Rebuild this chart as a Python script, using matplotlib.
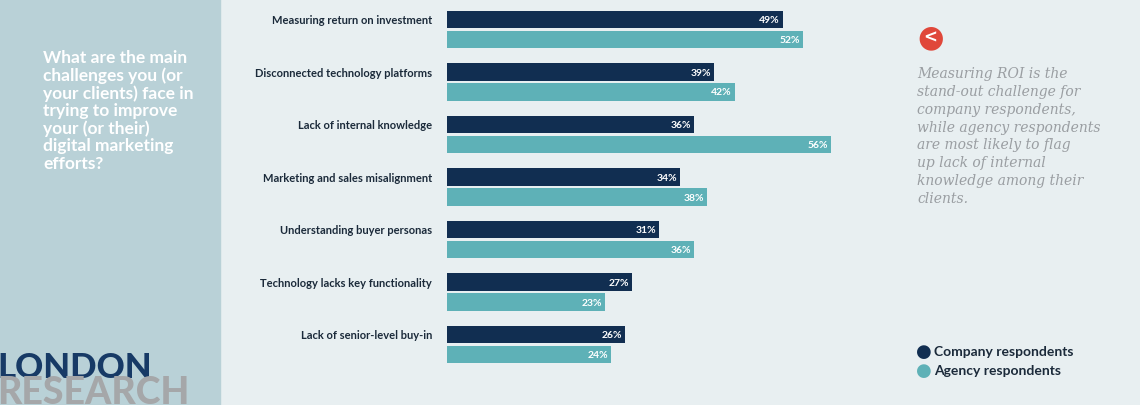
import numpy as np
import matplotlib.pyplot as plt
from matplotlib.patches import Rectangle

categories = [
    "Measuring return on investment",
    "Disconnected technology platforms",
    "Lack of internal knowledge",
    "Marketing and sales misalignment",
    "Understanding buyer personas",
    "Technology lacks key functionality",
    "Lack of senior-level buy-in",
]
company = [49, 39, 36, 34, 31, 27, 26]
agency = [52, 42, 56, 38, 36, 23, 24]

dark = "#112e51"
teal = "#5eb1b7"
bg = "#e8eff1"

fig = plt.figure(figsize=(11.4, 4.06), dpi=100)
fig.patch.set_facecolor(bg)
fig.patches.append(Rectangle((0, 0), 220 / 1140, 1, transform=fig.transFigure,
                             color="#b9d1d7", zorder=0))

fig.text(43 / 1140, 1 - 50 / 406,
         "What are the main\nchallenges you (or\nyour clients) face in\ntrying to improve\nyour (or their)\ndigital marketing\nefforts?",
         color="white", fontsize=12.5, fontweight="bold", va="top", ha="left",
         linespacing=1.1, family="Lato")
fig.text(-3 / 1140, 1 - 368 / 406, "LONDON", color="#173a66", fontsize=25,
         fontweight="black", va="center", family="Lato")
fig.text(-3 / 1140, 1 - 393 / 406, "RESEARCH", color="#a5a7a9", fontsize=27,
         fontweight="black", va="center", family="Lato")

ax = fig.add_axes([447 / 1140, 0, 411 / 1140, 1])
ax.set_facecolor("none")
y = np.arange(len(categories))
off = 0.19
h = 0.33
ax.barh(y - off, company, height=h, color=dark)
ax.barh(y + off, agency, height=h, color=teal)
for i in range(len(categories)):
    ax.text(company[i] - 0.4, i - off, f"{company[i]}%", color="white", fontsize=7.5,
            fontweight="bold", ha="right", va="center", family="Lato")
    ax.text(agency[i] - 0.4, i + off, f"{agency[i]}%", color="white", fontsize=7.5,
            fontweight="bold", ha="right", va="center", family="Lato")
    ax.text(-2.2, i - off, categories[i], color="#1b2a3a", fontsize=8,
            fontweight="bold", ha="right", va="center", family="Lato")
ax.set_xlim(0, 60)
ax.set_ylim(7.15, -0.58)
ax.axis("off")

fig.text(931 / 1140, 1 - 38 / 406, "\u25cf", color="#e0473a", fontsize=22,
         ha="center", va="center")
fig.text(930 / 1140, 1 - 38 / 406, "<", color="white", fontsize=12, fontweight="bold",
         ha="center", va="center")
fig.text(917 / 1140, 1 - 67 / 406,
         "Measuring ROI is the\nstand-out challenge for\ncompany respondents,\nwhile agency respondents\nare most likely to flag\nup lack of internal\nknowledge among their\nclients.",
         color="#9a9ea2", fontsize=10, style="italic", family="DejaVu Serif",
         va="top", ha="left", linespacing=1.35)

for yy, col, lab in [(352, dark, "Company respondents"), (371, teal, "Agency respondents")]:
    fig.text(924 / 1140, 1 - yy / 406, "\u25cf", color=col, fontsize=13,
             ha="center", va="center")
    fig.text(934 / 1140, 1 - yy / 406, lab, color="#1b2a3a", fontsize=10,
             fontweight="bold", va="center", family="Lato")

fig.savefig("out.png", dpi=100, facecolor=bg)
